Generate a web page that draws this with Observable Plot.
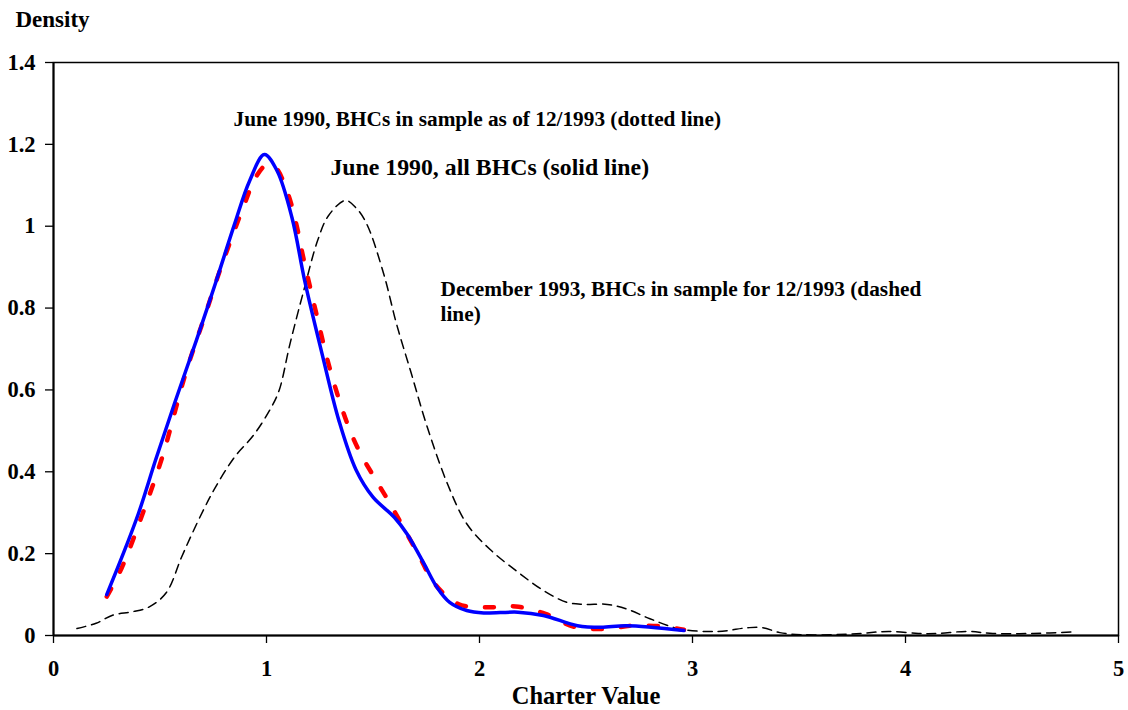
<!DOCTYPE html>
<html>
<head>
<meta charset="utf-8">
<script src="https://cdn.jsdelivr.net/npm/d3@7"></script>
<script src="https://cdn.jsdelivr.net/npm/@observablehq/plot@0.6"></script>
<style>
  html, body { margin: 0; padding: 0; background: #fff; }
  #chart { width: 1128px; height: 710px; }
  #chart svg, #chart svg text { font-family: "Liberation Serif", "Times New Roman", Times, serif !important; font-weight: bold; }
</style>
</head>
<body>
<div id="chart"></div>
<script>
// June 1990, all BHCs (solid line)
const solidX = [0.25,0.32,0.40,0.48,0.57,0.67,0.76,0.85,0.92,0.99,1.05,1.12,1.18,1.26,1.34,1.42,1.50,1.60,1.66,1.74,1.80,1.86,1.94,2.02,2.18,2.30,2.46,2.57,2.69,2.96];
const solidY = [0.10,0.19,0.30,0.43,0.57,0.72,0.86,1.005,1.11,1.175,1.135,1.02,0.865,0.69,0.525,0.405,0.338,0.289,0.248,0.175,0.118,0.081,0.061,0.055,0.057,0.049,0.024,0.02,0.024,0.012];

// June 1990, BHCs in sample as of 12/1993 (dotted line)
const dottedX = [0.25,0.32,0.42,0.51,0.62,0.71,0.79,0.89,0.95,1.00,1.04,1.10,1.14,1.17,1.23,1.30,1.38,1.44,1.51,1.58,1.65,1.72,1.79,1.90,2.04,2.17,2.31,2.44,2.58,2.72,2.86,2.96];
const dottedY = [0.095,0.165,0.30,0.435,0.64,0.78,0.905,1.045,1.12,1.15,1.145,1.08,1.005,0.93,0.795,0.647,0.517,0.446,0.383,0.322,0.257,0.191,0.126,0.077,0.069,0.071,0.053,0.022,0.016,0.024,0.022,0.014];

// December 1993, BHCs in sample for 12/1993 (dashed line)
const dashedX = [0.11,0.20,0.28,0.37,0.45,0.53,0.60,0.65,0.71,0.76,0.85,0.94,1.02,1.06,1.11,1.175,1.24,1.29,1.37,1.42,1.47,1.55,1.61,1.68,1.75,1.85,1.94,2.05,2.18,2.30,2.41,2.49,2.60,2.69,2.80,2.94,3.12,3.26,3.33,3.41,3.51,3.66,3.79,3.92,4.06,4.15,4.29,4.41,4.60,4.79];
const dashedY = [0.017,0.03,0.05,0.058,0.07,0.105,0.19,0.248,0.313,0.362,0.436,0.49,0.555,0.60,0.712,0.843,0.965,1.025,1.063,1.045,1.006,0.884,0.762,0.64,0.517,0.37,0.273,0.21,0.155,0.11,0.081,0.076,0.076,0.065,0.041,0.016,0.01,0.019,0.019,0.007,0.002,0.002,0.005,0.01,0.005,0.005,0.01,0.005,0.005,0.009];

const xTicks = [0, 1, 2, 3, 4, 5];
const yTicks = [0, 0.2, 0.4, 0.6, 0.8, 1, 1.2, 1.4];

const labelTexts = [
  "June 1990, BHCs in sample as of 12/1993 (dotted line)",
  "June 1990, all BHCs (solid line)",
  "December 1993, BHCs in sample for 12/1993 (dashed\nline)"
];
const labelX = [0.845, 1.30, 1.817];
const labelY = [1.246, 1.124, 0.769];
const labelSize = [21.3, 23.8, 21.3];

const xTitle = "Charter Value";
const yTitle = "Density";

const toRows = (xs, ys) => xs.map((x, i) => ({x, y: ys[i]}));
const solid = toRows(solidX, solidY);
const dotted = toRows(dottedX, dottedY);
const dashed = toRows(dashedX, dashedY);
const labels = labelTexts.map((t, i) => ({t, x: labelX[i], y: labelY[i], s: labelSize[i]}));

const font = "Liberation Serif, Times New Roman, Times, serif";

const chart = Plot.plot({
  width: 1128,
  height: 710,
  marginLeft: 53,
  marginRight: 10,
  marginTop: 62,
  marginBottom: 75,
  style: "font-family: 'Liberation Serif', 'Times New Roman', serif; font-weight: bold; font-size: 22px; color: black; background: white;",
  x: {domain: [0, 5]},
  y: {domain: [0, 1.4]},
  marks: [
    Plot.frame({stroke: "black", strokeWidth: 1.5}),
    Plot.axisX({ticks: xTicks, tickSize: 8, tickPadding: 17, label: null, fontSize: 22.5, fontWeight: "bold", fontFamily: font, strokeWidth: 1.3, tickFormat: d3.format("~g")}),
    Plot.axisY({ticks: yTicks, tickSize: 8, tickPadding: 10, label: null, fontSize: 22.5, fontWeight: "bold", fontFamily: font, strokeWidth: 1.3, tickFormat: d3.format("~g")}),
    Plot.ruleY([0], {stroke: "black", strokeWidth: 2}),
    Plot.ruleX([0], {stroke: "black", strokeWidth: 2}),
    Plot.line(dashed, {x: "x", y: "y", stroke: "black", strokeWidth: 1.5, strokeDasharray: "9,6", curve: "catmull-rom"}),
    Plot.line(dotted, {x: "x", y: "y", stroke: "#ff0000", strokeWidth: 4.5, strokeDasharray: "9,19", curve: "catmull-rom"}),
    Plot.line(solid, {x: "x", y: "y", stroke: "#0000ff", strokeWidth: 3.5, curve: "catmull-rom"}),
    Plot.text(labels, {x: "x", y: "y", text: "t", fontSize: "s", textAnchor: "start", lineAnchor: "bottom", lineHeight: 1.14, fill: "black", fontWeight: "bold", fontFamily: font}),
    Plot.text([yTitle], {frameAnchor: "top-left", text: d => d, textAnchor: "start", lineAnchor: "bottom", dx: -38, dy: -36, fontSize: 23, fontWeight: "bold", fontFamily: font, fill: "black"}),
    Plot.text([xTitle], {frameAnchor: "bottom", text: d => d, textAnchor: "middle", lineAnchor: "bottom", dy: 68, fontSize: 24.5, fontWeight: "bold", fontFamily: font, fill: "black"})
  ]
});
document.getElementById("chart").appendChild(chart);
</script>
</body>
</html>
